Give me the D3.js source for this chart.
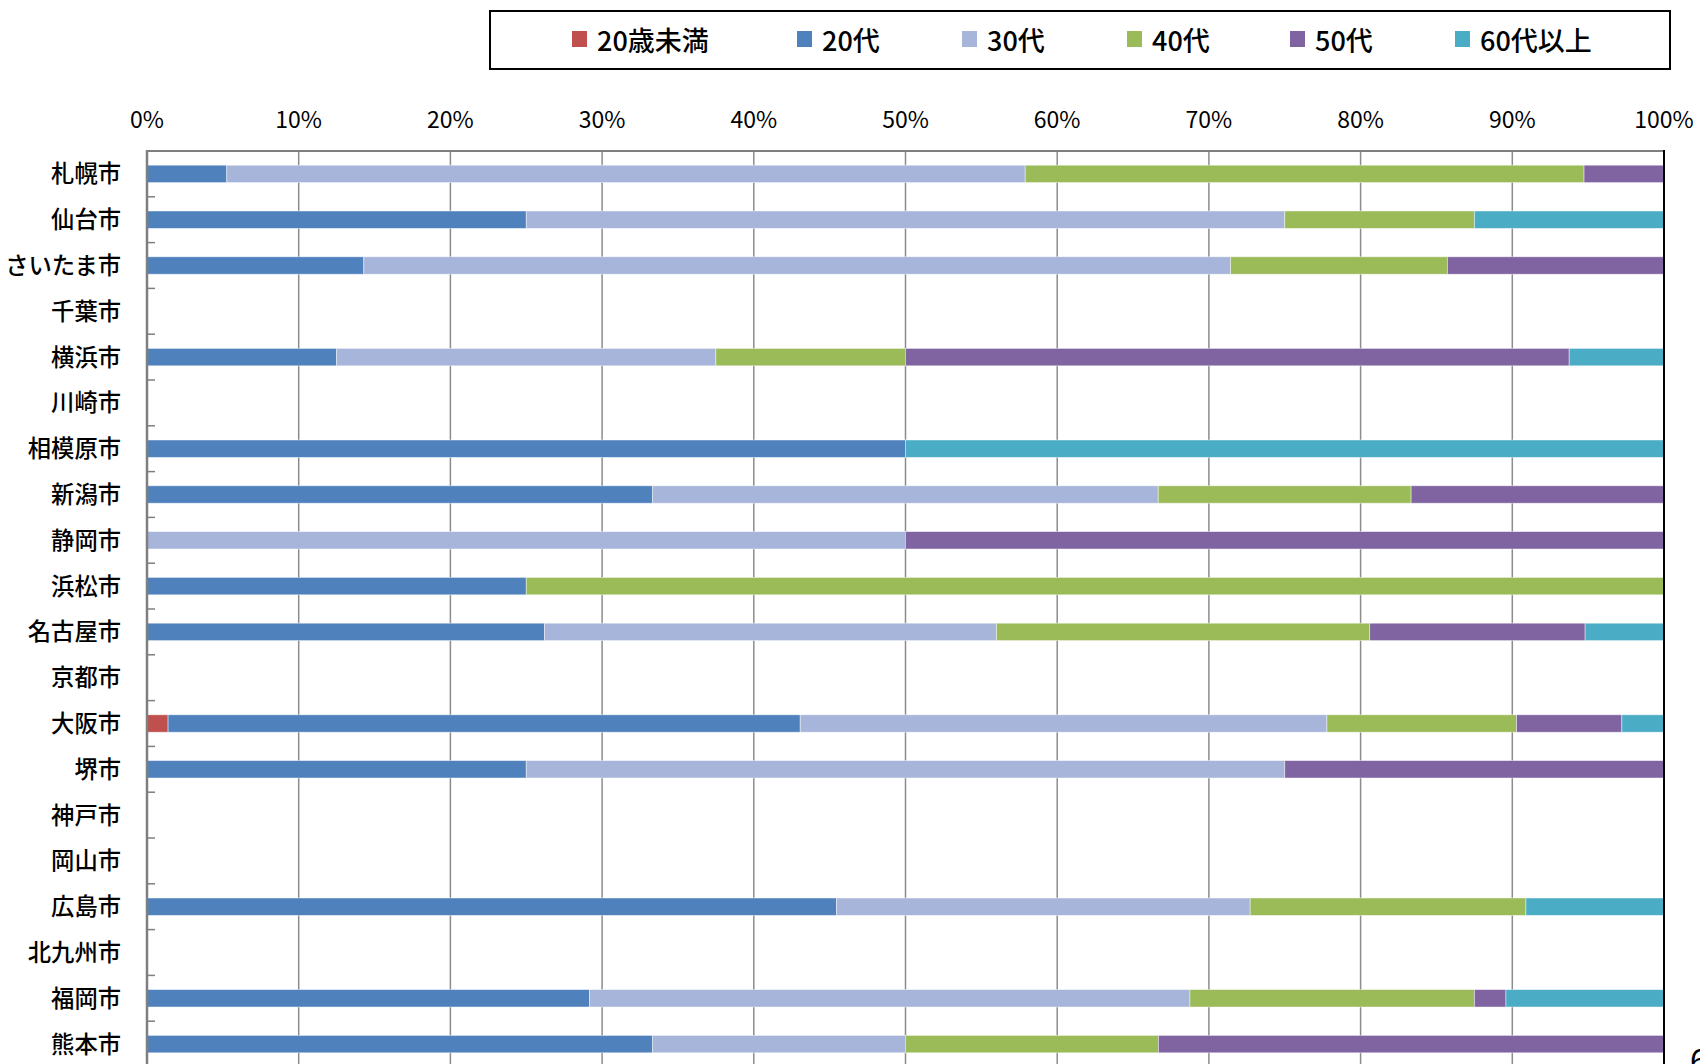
<!DOCTYPE html>
<html>
<head>
<meta charset="utf-8">
<script src="https://cdn.jsdelivr.net/npm/d3@7"></script>
<style>
html,body{margin:0;padding:0;background:#fff;overflow:hidden;}
svg{display:block;}
text{font-family:"Noto Sans CJK JP","Noto Sans",sans-serif;fill:#000;}
</style>
</head>
<body>
<svg id="chart" width="1700" height="1064"></svg>
<script>
const cities = ["札幌市","仙台市","さいたま市","千葉市","横浜市","川崎市","相模原市","新潟市","静岡市","浜松市","名古屋市","京都市","大阪市","堺市","神戸市","岡山市","広島市","北九州市","福岡市","熊本市"];
const seriesNames = ["20歳未満","20代","30代","40代","50代","60代以上"];
const seriesColors = ["#C0504D","#4F81BD","#A7B5DB","#9BBB59","#8064A2","#4BACC6"];
const tickValues = [0,10,20,30,40,50,60,70,80,90,100];

// percentages per series, in city order
const under20 = [0,0,0,0,0,0,0,0,0,0,0,0,1.39,0,0,0,0,0,0,0];
const age20s  = [5.26,25,14.29,0,12.5,0,50,33.33,0,25,26.2,0,41.67,25,0,0,45.45,0,29.17,33.33];
const age30s  = [52.63,50,57.14,0,25,0,0,33.33,50,0,29.8,0,34.72,50,0,0,27.27,0,39.58,16.67];
const age40s  = [36.84,12.5,14.29,0,12.5,0,0,16.67,0,75,24.6,0,12.5,0,0,0,18.18,0,18.75,16.67];
const age50s  = [5.26,0,14.29,0,43.75,0,0,16.67,50,0,14.2,0,6.94,25,0,0,0,0,2.08,33.33];
const age60up = [0,12.5,0,0,6.25,0,50,0,0,0,5.2,0,2.78,0,0,0,9.09,0,10.42,0];

const seriesValues = [under20, age20s, age30s, age40s, age50s, age60up];

(function(){
const svg = d3.select("#chart");
const pL = 147, pR = 1664, pT = 151, pB = 1067;

const x = d3.scaleLinear().domain([0,100]).range([pL,pR]);
const y = d3.scaleBand().domain(cities).range([pT,pB]).paddingInner(0.62).paddingOuter(0.31);

// gridlines
svg.append("g").selectAll("line").data(tickValues.slice(1,-1)).join("line")
  .attr("x1",d=>x(d)).attr("x2",d=>x(d)).attr("y1",pT).attr("y2",1064)
  .attr("stroke","#8c8c8c").attr("stroke-width",1.5);

// top border
svg.append("line").attr("x1",pL).attr("x2",pR).attr("y1",pT).attr("y2",pT)
  .attr("stroke","#7f7f7f").attr("stroke-width",2);

// tick labels (top)
svg.append("g").selectAll("text").data(tickValues).join("text")
  .attr("x",d=>x(d)).attr("y",118).attr("text-anchor","middle").attr("dominant-baseline","central")
  .attr("font-size",23).attr("font-weight",400).text(d=>d+"%");

// stacked bars
const rows = cities.map((c,i)=>{
  let acc = 0;
  return seriesValues.map((arr,s)=>{ const v = arr[i]; const seg = {city:c, s, x0:acc, x1:acc+v}; acc += v; return seg; });
});
const segs = rows.flat().filter(d=>d.x1-d.x0>0);
svg.append("g").selectAll("rect").data(segs).join("rect")
  .attr("x",d=>x(d.x0)).attr("width",d=>x(d.x1)-x(d.x0))
  .attr("y",d=>y(d.city)).attr("height",y.bandwidth())
  .attr("fill",d=>seriesColors[d.s])
  .attr("stroke","#ffffff").attr("stroke-opacity",0.55).attr("stroke-width",0.8);

// right edge (black)
svg.append("line").attr("x1",pR).attr("x2",pR).attr("y1",pT-1).attr("y2",1064)
  .attr("stroke","#000").attr("stroke-width",2);

// left axis
const step = y.step();
const boundaries = d3.range(1,cities.length).map(i=>pT + i*step);
svg.append("g").selectAll("line").data(boundaries).join("line")
  .attr("x1",pL).attr("x2",pL+8).attr("y1",d=>d).attr("y2",d=>d)
  .attr("stroke","#7f7f7f").attr("stroke-width",1.5);
svg.append("line").attr("x1",pL).attr("x2",pL).attr("y1",pT-1).attr("y2",1064)
  .attr("stroke","#7f7f7f").attr("stroke-width",2.5);

// category labels
svg.append("g").selectAll("text").data(cities).join("text")
  .attr("x",121).attr("y",d=>y(d)+y.bandwidth()/2-1.5).attr("text-anchor","end")
  .attr("dominant-baseline","central").attr("font-size",23.3).attr("font-weight",500).text(d=>d);

// legend
svg.append("rect").attr("x",490).attr("y",11).attr("width",1180).attr("height",58)
  .attr("fill","#fff").attr("stroke","#000").attr("stroke-width",2);
const legendX = [572,797,962,1127,1290,1455];
const lg = svg.append("g").selectAll("g").data(seriesNames).join("g")
  .attr("transform",(d,i)=>`translate(${legendX[i]},39)`);
lg.append("rect").attr("x",0).attr("y",-8).attr("width",15).attr("height",16)
  .attr("fill",(d,i)=>seriesColors[i]);
lg.append("text").attr("x",25).attr("y",0).attr("dominant-baseline","central")
  .attr("font-size",27).attr("font-weight",500).text(d=>d);

// page number fragment (cut off at the page edge in the reference)
svg.append("text").attr("x",1690).attr("y",1072).attr("font-size",32).text("6");
})();
</script>
</body>
</html>
